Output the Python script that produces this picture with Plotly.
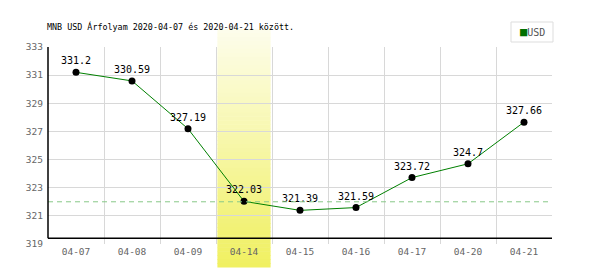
import plotly.graph_objects as go

categories = ["04-07", "04-08", "04-09", "04-14", "04-15", "04-16", "04-17", "04-20", "04-21"]
values = [331.2, 330.59, 327.19, 322.03, 321.39, 321.59, 323.72, 324.7, 327.66]
labels = ["331.2", "330.59", "327.19", "322.03", "321.39", "321.59", "323.72", "324.7", "327.66"]
highlight = "04-14"
ref_level = 322
title = "MNB USD Árfolyam 2020-04-07 és 2020-04-21 között."
series_name = "USD"

FONT = "DejaVu Sans Mono"
W, H = 600, 270
L, R, T, B = 48, 48, 47, 26
plot_h = H - T - B

fig = go.Figure()
fig.add_trace(go.Scatter(
    x=categories, y=values, mode="lines+markers+text",
    text=labels, textposition="top center",
    textfont=dict(family=FONT, size=10, color="#000"),
    line=dict(color="#008000", width=1),
    marker=dict(color="#000", size=7),
    cliponaxis=False, showlegend=False, hoverinfo="skip",
))

shapes = []
# highlighted band with vertical gradient (strips)
idx = categories.index(highlight)
top_px, bot_px = 29, 267
n = 60
c0 = (253, 253, 236)
c1 = (240, 240, 96)
for i in range(n):
    t = (i + 0.5) / n
    col = tuple(int(round(c0[k] + (c1[k] - c0[k]) * t)) for k in range(3))
    ya = top_px + (bot_px - top_px) * i / n
    yb = top_px + (bot_px - top_px) * (i + 1) / n + 0.6
    shapes.append(dict(
        type="rect", xref="x", yref="paper", layer="below",
        x0=idx - 0.475, x1=idx + 0.475,
        y0=(H - B - yb) / plot_h, y1=(H - B - ya) / plot_h,
        fillcolor="rgb(%d,%d,%d)" % col, line=dict(width=0),
    ))
# reference dashed line
shapes.append(dict(type="line", xref="paper", yref="y", x0=0, x1=1, y0=ref_level, y1=ref_level,
                   line=dict(color="#88c888", width=1, dash="5px,4px"), layer="above"))
# black axis lines
base = 5.7 / plot_h
shapes.append(dict(type="line", xref="paper", yref="paper", x0=0, x1=1, y0=base, y1=base,
                   line=dict(color="#000", width=1.5)))
shapes.append(dict(type="line", xref="paper", yref="paper", x0=0, x1=0, y0=base, y1=1,
                   line=dict(color="#000", width=1.5)))
# legend box
shapes.append(dict(type="rect", xref="paper", yref="paper",
                   x0=(511 - L) / (W - L - R), x1=(553 - L) / (W - L - R),
                   y0=(H - B - 42) / plot_h, y1=(H - B - 22) / plot_h,
                   line=dict(color="#dddddd", width=1), fillcolor="white"))

annotations = [dict(
    xref="paper", yref="paper", x=(532 - L) / (W - L - R), y=(H - B - 32) / plot_h,
    text="<span style='color:#007000;font-size:12px'>■</span><span style='color:#555'>" + series_name + "</span>",
    showarrow=False, font=dict(family=FONT, size=10), xanchor="center", yanchor="middle",
)]

fig.update_layout(
    width=W, height=H, margin=dict(l=L, r=R, t=T, b=B),
    paper_bgcolor="white", plot_bgcolor="white",
    title=dict(text=title, x=47 / W, xanchor="left", xref="container",
               y=1 - 27 / H, yanchor="middle", yref="container",
               font=dict(family=FONT, size=8.4, color="#000")),
    shapes=shapes, annotations=annotations, showlegend=False,
    xaxis=dict(type="category", tickson="boundaries", showgrid=True, gridcolor="#d8d8d8",
               gridwidth=1, ticks="", showline=False, zeroline=False,
               tickfont=dict(family=FONT, size=9.5, color="#666"),
               range=[-0.5, len(categories) - 0.5], ticklabelstandoff=0),
    yaxis=dict(range=[319, 333], dtick=2, tick0=319, showgrid=True, gridcolor="#d8d8d8",
               gridwidth=1, ticks="", showline=False, zeroline=False,
               tickfont=dict(family=FONT, size=9.5, color="#666"), ticklabelstandoff=4),
)

fig.write_html("out.html")
